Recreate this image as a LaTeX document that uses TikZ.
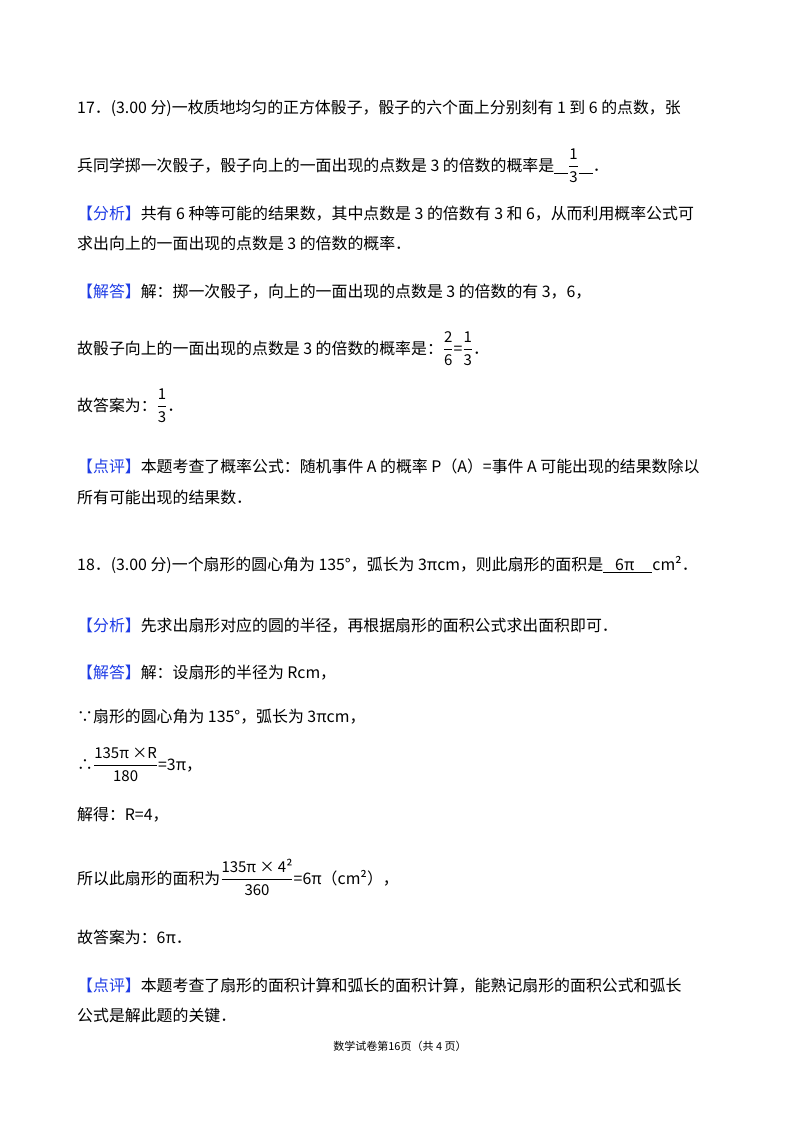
\documentclass[tikz,border=0pt]{standalone}
\usepackage{fontspec}
\setmainfont{Noto Sans CJK SC}
\usepackage{amsmath}
\definecolor{tagblue}{RGB}{30,60,230}
\newcommand{\tg}[1]{{\color{tagblue}【#1】}}
\newcommand{\fr}[2]{$\dfrac{\text{\fontsize{15}{15}\selectfont #1}}{\text{\fontsize{15}{15}\selectfont #2}}$}
\newcommand{\blank}[1]{\underline{\hspace{#1}}}
\begin{document}
\begin{tikzpicture}[x=1pt,y=-1pt,
  ln/.style={anchor=base west,inner sep=0pt,font=\fontsize{15.9}{18}\selectfont}]
\useasboundingbox[fill=white] (0,0) rectangle (800,1132);
\node[ln] (l1) at (77,113) {17．(3.00 分)一枚质地均匀的正方体骰子，骰子的六个面上分别刻有 1 到 6 的点数，张};
\node[ln] (l2) at (77,171) {兵同学掷一次骰子，骰子向上的一面出现的点数是 3 的倍数的概率是\blank{14pt}\fr{1}{3}\blank{14pt}．};
\node[ln] (l3) at (77,219) {\tg{分析}共有 6 种等可能的结果数，其中点数是 3 的倍数有 3 和 6，从而利用概率公式可};
\node[ln] (l4) at (77,249) {求出向上的一面出现的点数是 3 的倍数的概率．};
\node[ln] (l5) at (77,297) {\tg{解答}解：掷一次骰子，向上的一面出现的点数是 3 的倍数的有 3，6，};
\node[ln] (l6) at (77,354) {故骰子向上的一面出现的点数是 3 的倍数的概率是：\fr{2}{6}=\fr{1}{3}．};
\node[ln] (l7) at (77,411) {故答案为：\fr{1}{3}．};
\node[ln] (l8) at (77,472) {\tg{点评}本题考查了概率公式：随机事件 A 的概率 P（A）=事件 A 可能出现的结果数除以};
\node[ln] (l9) at (77,503) {所有可能出现的结果数．};
\node[ln] (m1) at (77,570) {18．(3.00 分)一个扇形的圆心角为 135°，弧长为 3πcm，则此扇形的面积是\underline{\hspace{12pt}6π\hspace{18pt}}cm²．};
\node[ln] (m2) at (77,631) {\tg{分析}先求出扇形对应的圆的半径，再根据扇形的面积公式求出面积即可．};
\node[ln] (m3) at (77,678) {\tg{解答}解：设扇形的半径为 Rcm，};
\node[ln] (m4) at (77,722) {∵扇形的圆心角为 135°，弧长为 3πcm，};
\node[ln] (m5) at (77,770) {∴\fr{135π ×R}{180}=3π，};
\node[ln] (m6) at (77,820) {解得：R=4，};
\node[ln] (m7) at (77,884) {所以此扇形的面积为\fr{135π × 4²}{360}=6π（cm²），};
\node[ln] (m8) at (77,943) {故答案为：6π．};
\node[ln] (m9) at (77,991) {\tg{点评}本题考查了扇形的面积计算和弧长的面积计算，能熟记扇形的面积公式和弧长};
\node[ln] (m10) at (77,1021) {公式是解此题的关键．};
\node[anchor=base,inner sep=0pt,font=\fontsize{11}{13}\selectfont] (ft) at (400,1050) {数学试卷第16页（共 4 页）};
\end{tikzpicture}
\end{document}
